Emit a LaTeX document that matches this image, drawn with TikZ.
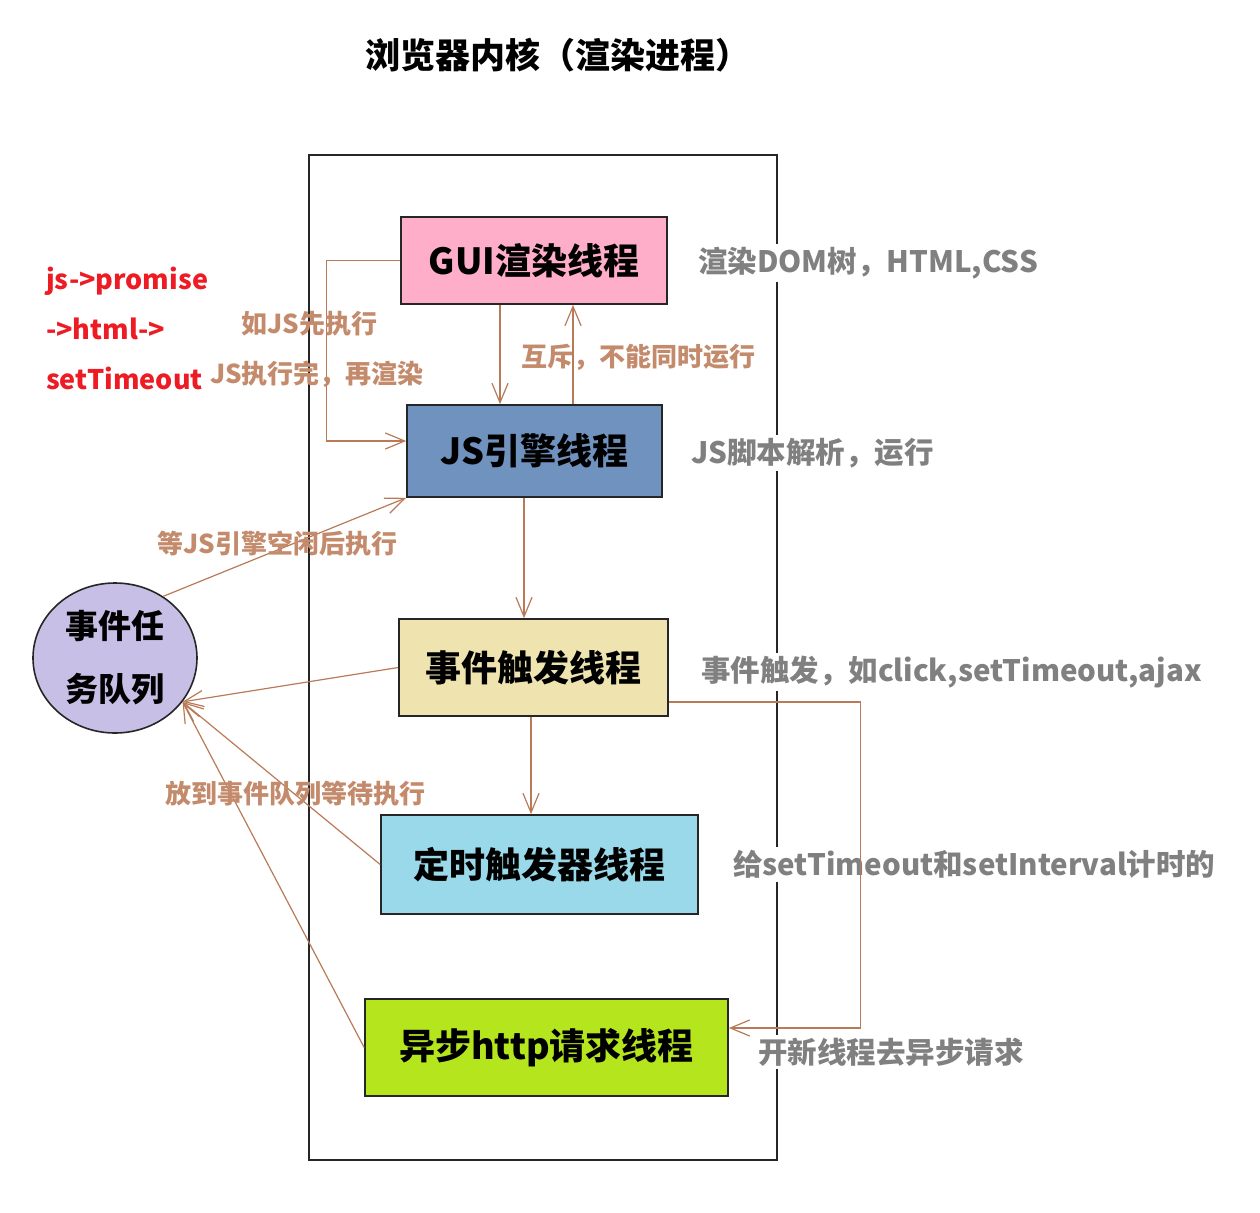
\documentclass[tikz,border=0pt]{standalone}
\usepackage{fontspec}
\setmainfont{Noto Sans CJK SC}
\usetikzlibrary{positioning,arrows.meta,shapes.geometric}
\definecolor{linkbrown}{HTML}{B97A57}
\definecolor{hintbrown}{HTML}{C48A6C}
\definecolor{notegray}{HTML}{808080}
\definecolor{alertred}{HTML}{ED1C24}
\definecolor{guipink}{HTML}{FFAEC9}
\definecolor{jsblue}{HTML}{7092BE}
\definecolor{evtcream}{HTML}{EFE4B0}
\definecolor{timercyan}{HTML}{99D9EA}
\definecolor{httpgreen}{HTML}{B5E61D}
\definecolor{queuepurple}{HTML}{C8BFE7}
\tikzset{
  thread/.style={draw=black!85, line width=1.6pt, inner sep=0pt,
    font=\fontsize{36}{40}\selectfont\bfseries},
  note/.style={fill=white, text=notegray, inner sep=3pt,
    font=\fontsize{29.5}{34}\selectfont\bfseries},
  hint/.style={text=hintbrown, inner sep=0pt,
    font=\fontsize{26}{30}\selectfont\bfseries},
  link/.style={draw=linkbrown, line width=1.2pt, -{Straight Barb[angle=45:21pt]}},
}
\begin{document}
\begin{tikzpicture}[x=1pt, y=-1pt]
        \useasboundingbox (0,0) rectangle (1260,1212);
        % Title and the process frame
        \node[font=\fontsize{35}{40}\selectfont\bfseries] (title) at (558,55) {浏览器内核（渲染进程）};
        \draw[black!85, line width=1.6pt] (309,155) rectangle (777,1160);
        % Draw the threads
        \node[thread, fill=guipink, minimum width=266pt, minimum height=87pt] (gui) at (534,260.5) {GUI渲染线程};
        \node[thread, fill=jsblue, minimum width=255pt, minimum height=92pt] (js) at (534.5,451) {JS引擎线程};
        \node[thread, fill=evtcream, minimum width=269pt, minimum height=97pt] (evt) at (533.5,667.5) {事件触发线程};
        \node[thread, fill=timercyan, minimum width=317pt, minimum height=99pt] (timer) at (539.5,864.5) {定时触发器线程};
        \node[thread, fill=httpgreen, minimum width=363pt, minimum height=97pt] (http) at (546.5,1047.5) {异步http请求线程};
        % Draw the event queue
        \node[ellipse, draw=black!85, line width=1.6pt, fill=queuepurple, minimum width=164pt, minimum height=150pt,
          inner sep=0pt, align=center, font=\fontsize{33}{63}\selectfont\bfseries] (queue) at (115,658) {事件任\\务队列};
        % Notes beside the threads
        \node[note, right=27pt of gui, yshift=-2.5pt] (guinote) {渲染DOM树，HTML,CSS};
        \node[note, right=25pt of js, yshift=-2pt] (jsnote) {JS脚本解析，运行};
        \node[note, right=29pt of evt, yshift=-4.5pt] (evtnote) {事件触发，如click,setTimeout,ajax};
        \node[note, right=31pt of timer] (timernote) {给setTimeout和setInterval计时的};
        \node[note, right=26pt of http, yshift=-4.5pt] (httpnote) {开新线程去异步请求};
        % Red remark on the left
        \node[anchor=west, text=alertred, align=left, inner sep=0pt,
          font=\fontsize{27}{50}\selectfont\bfseries] (order) at (46,328) {js->promise\\->html->\\setTimeout};
        % Draw the connectors
        \draw[link] (gui.west) -- ++(-74,0) |- ([yshift=10pt]js.west);
        \draw[link] ([xshift=-34pt]gui.south) -- ([xshift=-34pt]gui.south |- js.north);
        \draw[link] ([xshift=38.5pt]js.north) -- ([xshift=38.5pt]js.north |- gui.south);
        \draw[link] ([xshift=-10.5pt]js.south) -- ([xshift=-10.5pt]js.south |- evt.north);
        \draw[link] ([xshift=-2.5pt]evt.south) -- ([xshift=-2.5pt]evt.south |- timer.north);
        \draw[link] (queue.52) -- (js.south west);
        \foreach \src in {evt, timer, http} {
            \draw[link] (\src.west) -- (queue.-33);
        }
        \draw[link] ([yshift=-34.5pt]evt.east) -- ++(192,0) |- ([yshift=19.5pt]http.east);
        % Label the connectors
        \node[hint] (jsfirst) at (309.5,324) {如JS先执行};
        \node[hint] (jsdone) at (317,374) {JS执行完，再渲染};
        \node[hint] (mutex) at (638.5,357) {互斥，不能同时运行};
        \node[hint] (idle) at (277.5,544) {等JS引擎空闲后执行};
        \node[hint] (enqueue) at (295.5,794) {放到事件队列等待执行};
\end{tikzpicture}
\end{document}
